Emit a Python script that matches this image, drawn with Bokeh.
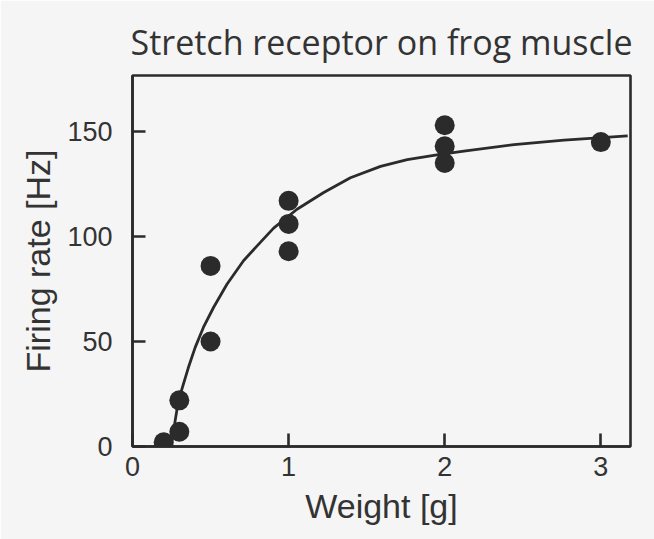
from bokeh.plotting import figure
from bokeh.models import Range1d, FixedTicker
from bokeh.embed import file_html
from bokeh.resources import INLINE

# Measured firing rate of the stretch receptor at each load
weight_g = [0.2, 0.3, 0.3, 0.5, 0.5, 1.0, 1.0, 1.0, 2.0, 2.0, 2.0, 3.0]
rate_hz = [2, 7, 22, 50, 86, 93, 106, 117, 135, 143, 153, 145]

# Hand-drawn trend curve through the data
curve_x = [0.245, 0.258, 0.273, 0.294, 0.326, 0.358, 0.401, 0.454, 0.519,
           0.605, 0.711, 0.819, 0.904, 1.054, 1.225, 1.396, 1.589, 1.76,
           1.95, 2.123, 2.444, 2.765, 3.172]
curve_y = [0, 4.2, 12.2, 21.7, 29.7, 37.6, 47.1, 56.7, 66.2,
           77.3, 88.5, 97.2, 104, 113, 121, 128, 133.4, 136.6,
           138.9, 140.7, 143.8, 145.9, 147.9]

x_ticks = [0, 1, 2, 3]
y_ticks = [0, 50, 100, 150]

ink = "#2b2b2b"
paper = "#f5f5f5"
text_ink = "#333333"
label_font = "Liberation Sans"

p = figure(width=654, height=539, output_backend="svg", toolbar_location=None,
           x_range=Range1d(0, 3.19), y_range=Range1d(0, 176.7),
           min_border_left=132, min_border_right=24, min_border_top=75,
           min_border_bottom=93)

p.title.text = "Stretch receptor on frog muscle"
p.title.text_font = "Open Sans"
p.title.text_font_size = "34px"
p.title.text_font_style = "normal"
p.title.text_color = text_ink
p.title.align = "center"
p.title.standoff = 22

p.background_fill_color = paper
p.border_fill_color = paper
p.outline_line_color = ink
p.outline_line_width = 2.6
p.grid.grid_line_color = None

# Boxed frame with inward ticks
p.axis.axis_line_color = ink
p.axis.axis_line_width = 2.6
p.axis.major_tick_line_color = ink
p.axis.major_tick_line_width = 2.6
p.axis.major_tick_in = 13
p.axis.major_tick_out = 0
p.axis.minor_tick_line_color = None
p.axis.major_label_text_font = label_font
p.axis.major_label_text_font_size = "27px"
p.axis.major_label_text_color = text_ink
p.axis.axis_label_text_font = label_font
p.axis.axis_label_text_font_size = "34px"
p.axis.axis_label_text_font_style = "normal"
p.axis.axis_label_text_color = text_ink

p.xaxis.ticker = FixedTicker(ticks=x_ticks)
p.yaxis.ticker = FixedTicker(ticks=y_ticks)
p.xaxis.axis_label = "Weight [g]"
p.yaxis.axis_label = "Firing rate [Hz]"
p.xaxis.major_label_standoff = 10
p.yaxis.major_label_standoff = 20
p.xaxis.axis_label_standoff = 8
p.yaxis.axis_label_standoff = 7

p.line(curve_x, curve_y, line_color=ink, line_width=2.8)
p.scatter(weight_g, rate_hz, size=20, fill_color=ink, line_color=None)

open("out.html", "w").write(file_html(p, INLINE))
